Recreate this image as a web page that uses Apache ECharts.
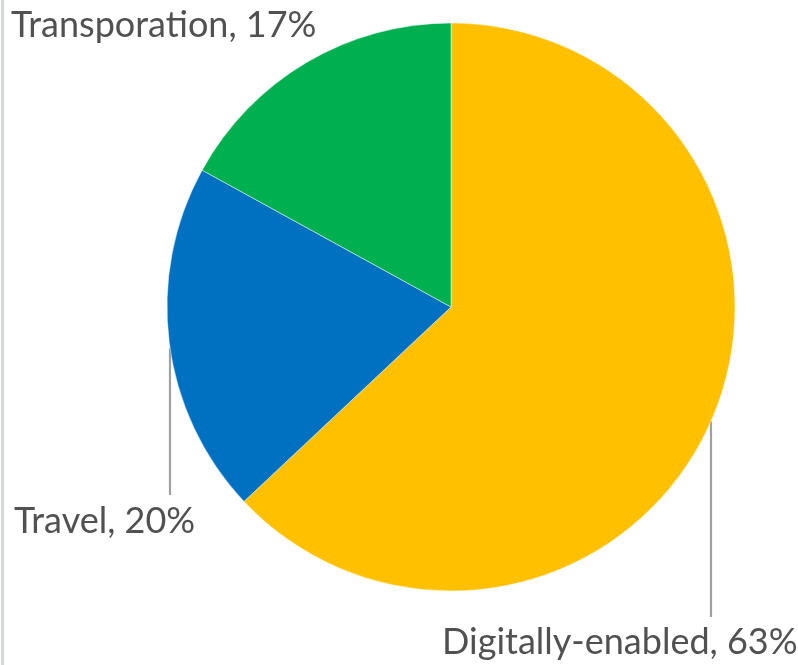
<!DOCTYPE html>
<html>
<head>
<meta charset="utf-8">
<script src="https://cdn.jsdelivr.net/npm/echarts@6/dist/echarts.min.js"></script>
<style>
html,body{margin:0;padding:0;background:#fff;}
#chart{width:798px;height:665px;}
</style>
</head>
<body>
<div id="chart"></div>
<script>
var categories = ['Digitally-enabled', 'Travel', 'Transporation'];
var values = [63, 20, 17];
var colors = ['#FFC000', '#0070C0', '#00B050'];

var CX = 451, CY = 307, R = 284;
// label anchor (left, middle) and leader-line x for each slice
var labelPos = [
  {x: 442, y: 642, lineX: 711, lineEnd: 617},
  {x: 14, y: 521, lineX: 170, lineEnd: 495},
  {x: 11, y: 25, lineX: null}
];

var total = values.reduce(function(a, b){ return a + b; }, 0);
var data = categories.map(function(c, i){
  return {
    name: c,
    value: values[i],
    itemStyle: {color: colors[i]},
    labelLine: {show: labelPos[i].lineX !== null}
  };
});

var chart = echarts.init(document.getElementById('chart'));
chart.setOption({
  backgroundColor: '#ffffff',
  animation: false,
  graphic: [{
    type: 'rect',
    shape: {x: 1, y: 0, width: 3, height: 665},
    style: {fill: '#d3d7d7'}
  }],
  series: [{
    type: 'pie',
    center: [CX, CY],
    radius: [0, R],
    startAngle: 90,
    clockwise: true,
    avoidLabelOverlap: false,
    itemStyle: {borderColor: 'rgba(255,255,255,0.6)', borderWidth: 0.8},
    label: {
      show: true,
      position: 'outside',
      overflow: 'none',
      width: 500,
      fontFamily: 'Lato',
      fontSize: 36,
      color: '#515151',
      formatter: function(p){ return p.name + ', ' + Math.round(p.value / total * 100) + '%'; }
    },
    labelLine: {show: true, lineStyle: {color: '#a0a0a0', width: 2.2}},
    labelLayout: function(params){
      var lp = labelPos[params.dataIndex];
      var res = {x: lp.x, y: lp.y, align: 'left', verticalAlign: 'middle'};
      if (lp.lineX !== null) {
        var dx = lp.lineX - CX;
        var startY = CY + Math.sqrt(R * R - dx * dx);
        res.labelLinePoints = [[lp.lineX, startY], [lp.lineX, lp.lineEnd], [lp.lineX, lp.lineEnd]];
      }
      return res;
    },
    data: data
  }]
});
</script>
</body>
</html>
